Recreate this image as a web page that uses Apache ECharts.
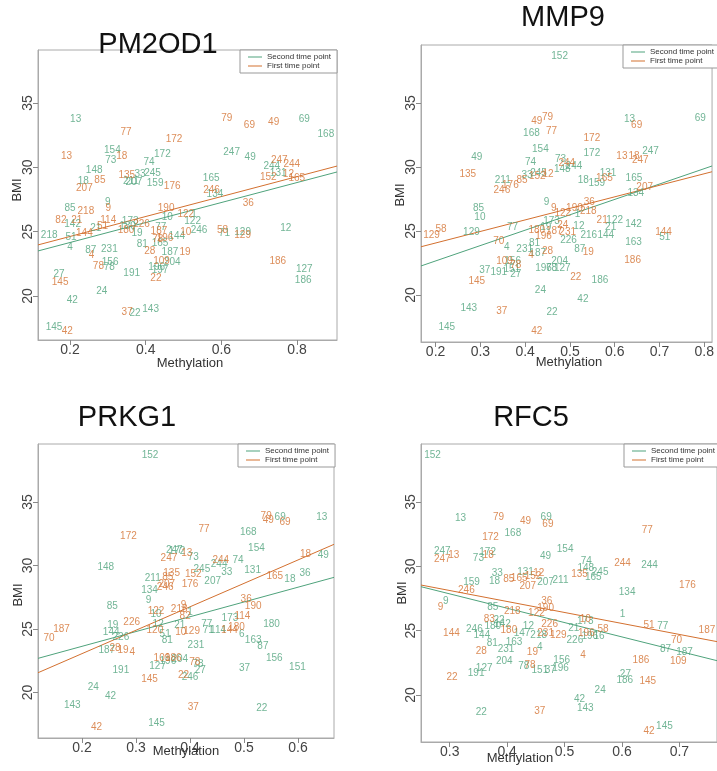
<!DOCTYPE html>
<html>
<head>
    <meta charset="utf-8">
    <title>Methylation vs BMI</title>
    <script src="https://cdn.jsdelivr.net/npm/echarts@6/dist/echarts.min.js"></script>
    <style>
        html, body { margin: 0; padding: 0; background: #fff; }
        #main { width: 717px; height: 771px; }
    </style>
</head>
<body>
<div id="main"></div>
<script type="text/javascript">
// each point: [methylation, BMI, subject id]
var pm2od1Second = [[0.215,33.73,'13'],[0.312,31.32,'154'],[0.308,30.57,'73'],[0.444,31.01,'172'],[0.409,30.36,'74'],[0.264,29.79,'148'],[0.385,29.46,'33'],[0.418,29.51,'245'],[0.361,28.88,'211'],[0.369,28.86,'207'],[0.425,28.73,'159'],[0.235,28.88,'18'],[0.3,27.28,'9'],[0.2,26.82,'85'],[0.207,25.54,'142'],[0.457,26.09,'10'],[0.528,26.38,'1'],[0.524,25.81,'122'],[0.359,25.83,'173'],[0.352,25.39,'180'],[0.44,25.34,'77'],[0.145,24.74,'218'],[0.203,24.57,'51'],[0.268,25.23,'21'],[0.2,23.76,'4'],[0.255,23.56,'87'],[0.304,23.66,'231'],[0.391,24.04,'81'],[0.438,24.1,'165'],[0.482,24.67,'144'],[0.377,24.9,'19'],[0.541,25.13,'246'],[0.464,23.37,'187'],[0.306,22.65,'156'],[0.304,22.2,'78'],[0.47,22.65,'204'],[0.429,22.2,'196'],[0.438,21.97,'197'],[0.363,21.77,'191'],[0.171,21.66,'27'],[0.284,20.37,'24'],[0.206,19.69,'42'],[0.372,18.68,'22'],[0.413,18.99,'143'],[0.158,17.57,'145'],[0.819,33.76,'69'],[0.876,32.59,'168'],[0.627,31.17,'247'],[0.676,30.75,'49'],[0.733,30.05,'244'],[0.75,29.54,'131'],[0.573,29.15,'165'],[0.583,27.93,'134'],[0.77,25.26,'12'],[0.608,24.84,'71'],[0.656,24.92,'129'],[0.819,22.1,'127'],[0.816,21.19,'186']];
var pm2od1First = [[0.348,32.72,'77'],[0.475,32.2,'172'],[0.191,30.88,'13'],[0.337,30.83,'18'],[0.35,29.38,'135'],[0.279,28.99,'85'],[0.238,28.4,'207'],[0.47,28.55,'176'],[0.242,26.55,'218'],[0.301,26.84,'9'],[0.454,26.82,'190'],[0.176,25.85,'82'],[0.218,25.9,'21'],[0.301,25.9,'114'],[0.286,25.44,'51'],[0.389,25.56,'226'],[0.238,24.88,'144'],[0.348,25.11,'180'],[0.435,25.0,'187'],[0.432,24.41,'78'],[0.451,24.51,'196'],[0.506,26.38,'122'],[0.506,24.92,'10'],[0.257,23.17,'4'],[0.411,23.45,'28'],[0.504,23.4,'19'],[0.275,22.31,'78'],[0.442,22.67,'109'],[0.174,21.07,'145'],[0.427,21.35,'22'],[0.351,18.76,'37'],[0.193,17.23,'42'],[0.614,33.81,'79'],[0.674,33.27,'69'],[0.738,33.5,'49'],[0.753,30.55,'247'],[0.786,30.26,'244'],[0.724,29.23,'152'],[0.777,29.48,'12'],[0.799,29.15,'165'],[0.574,28.19,'246'],[0.671,27.23,'36'],[0.603,25.13,'58'],[0.656,24.69,'129'],[0.749,22.7,'186']];

var mmp9Second = [[0.477,38.67,'152'],[0.292,30.76,'49'],[0.414,32.66,'168'],[0.434,31.38,'154'],[0.412,30.37,'74'],[0.404,29.32,'33'],[0.43,29.51,'245'],[0.35,28.93,'211'],[0.296,26.77,'85'],[0.299,26.07,'10'],[0.28,24.87,'129'],[0.372,25.29,'77'],[0.448,27.24,'9'],[0.359,23.73,'4'],[0.399,23.59,'231'],[0.421,24.04,'81'],[0.428,23.3,'187'],[0.31,21.9,'37'],[0.341,21.77,'191'],[0.37,22.0,'151'],[0.379,21.62,'27'],[0.441,22.13,'196'],[0.459,22.13,'78'],[0.434,20.34,'24'],[0.274,18.96,'143'],[0.225,17.52,'145'],[0.46,18.65,'22'],[0.633,33.75,'13'],[0.791,33.8,'69'],[0.549,31.07,'172'],[0.479,30.63,'73'],[0.483,29.82,'148'],[0.509,30.08,'244'],[0.68,31.2,'247'],[0.585,29.55,'131'],[0.53,28.93,'18'],[0.56,28.73,'159'],[0.643,29.16,'165'],[0.647,27.95,'134'],[0.517,26.33,'1'],[0.6,25.81,'122'],[0.591,25.26,'21'],[0.642,25.55,'142'],[0.52,25.34,'12'],[0.58,24.63,'144'],[0.542,24.69,'216'],[0.642,24.09,'163'],[0.497,24.3,'226'],[0.522,23.57,'87'],[0.477,22.6,'204'],[0.483,22.09,'127'],[0.567,21.17,'186'],[0.529,19.66,'42'],[0.712,24.55,'51'],[0.459,25.73,'173'],[0.446,25.29,'19'],[0.372,22.66,'156']];
var mmp9First = [[0.426,33.54,'49'],[0.45,33.88,'79'],[0.459,32.76,'77'],[0.272,29.43,'135'],[0.367,28.54,'176'],[0.348,28.18,'246'],[0.393,28.98,'85'],[0.427,29.24,'152'],[0.451,29.45,'12'],[0.191,24.63,'129'],[0.212,25.13,'58'],[0.341,24.22,'70'],[0.354,22.6,'109'],[0.379,22.29,'78'],[0.292,21.04,'145'],[0.348,18.7,'37'],[0.426,17.19,'42'],[0.413,23.13,'4'],[0.45,23.38,'28'],[0.426,25.08,'180'],[0.441,24.61,'196'],[0.465,24.95,'187'],[0.464,26.77,'9'],[0.484,26.38,'122'],[0.51,26.77,'190'],[0.543,27.24,'36'],[0.541,26.56,'218'],[0.484,25.48,'24'],[0.495,24.87,'231'],[0.541,23.36,'19'],[0.513,21.35,'22'],[0.493,30.29,'244'],[0.549,32.24,'172'],[0.616,30.86,'13'],[0.643,30.86,'18'],[0.657,30.55,'247'],[0.649,33.28,'69'],[0.577,29.16,'165'],[0.667,28.41,'207'],[0.572,25.86,'21'],[0.709,24.87,'144'],[0.64,22.68,'186']];

var prkg1Second = [[0.326,38.7,'152'],[0.244,29.83,'148'],[0.331,28.99,'211'],[0.325,28.02,'134'],[0.323,27.28,'9'],[0.256,26.83,'85'],[0.257,25.31,'19'],[0.254,24.71,'144'],[0.272,24.36,'226'],[0.246,23.35,'187'],[0.272,21.77,'191'],[0.221,20.38,'24'],[0.253,19.72,'42'],[0.182,19.02,'143'],[0.338,17.57,'145'],[0.371,31.22,'247'],[0.376,31.14,'172'],[0.406,30.65,'73'],[0.337,26.16,'10'],[0.341,25.37,'12'],[0.354,24.6,'51'],[0.358,24.08,'81'],[0.381,25.31,'21'],[0.34,22.09,'127'],[0.359,22.43,'196'],[0.381,22.64,'204'],[0.567,33.8,'69'],[0.644,33.8,'13'],[0.508,32.66,'168'],[0.523,31.4,'154'],[0.489,30.43,'74'],[0.454,30.12,'244'],[0.468,29.51,'33'],[0.516,29.59,'131'],[0.585,28.94,'18'],[0.613,29.39,'36'],[0.647,30.83,'49'],[0.442,28.8,'207'],[0.422,29.7,'245'],[0.551,25.39,'180'],[0.474,25.84,'173'],[0.517,24.13,'163'],[0.535,23.61,'87'],[0.556,22.69,'156'],[0.599,22.03,'151'],[0.501,21.91,'37'],[0.533,18.76,'22'],[0.411,23.69,'231'],[0.419,21.77,'27'],[0.4,21.24,'246'],[0.496,24.61,'6'],[0.434,24.87,'71'],[0.452,24.87,'114'],[0.431,25.37,'77'],[0.4,26.36,'1'],[0.415,22.2,'78']];
var prkg1First = [[0.286,32.27,'172'],[0.361,30.61,'247'],[0.394,30.96,'13'],[0.366,29.43,'135'],[0.359,29.04,'85'],[0.357,28.54,'207'],[0.354,28.28,'246'],[0.4,28.54,'176'],[0.337,26.42,'122'],[0.162,25.0,'187'],[0.139,24.31,'70'],[0.292,25.53,'226'],[0.261,23.48,'28'],[0.276,23.35,'19'],[0.293,23.19,'4'],[0.325,21.06,'145'],[0.227,17.26,'42'],[0.38,26.57,'218'],[0.388,26.89,'9'],[0.391,25.97,'82'],[0.383,24.76,'10'],[0.403,24.79,'129'],[0.388,21.38,'22'],[0.406,18.88,'37'],[0.335,24.92,'120'],[0.348,22.69,'109'],[0.369,22.72,'186'],[0.541,33.9,'79'],[0.545,33.53,'49'],[0.576,33.37,'69'],[0.426,32.85,'77'],[0.457,30.38,'244'],[0.406,29.31,'152'],[0.614,30.91,'18'],[0.557,29.17,'165'],[0.504,27.34,'36'],[0.517,26.83,'190'],[0.497,25.97,'114'],[0.486,25.13,'180'],[0.473,24.87,'144'],[0.409,22.42,'78']];

var rfc5Second = [[0.27,38.65,'152'],[0.319,33.73,'13'],[0.287,31.19,'247'],[0.35,30.63,'73'],[0.366,31.09,'172'],[0.41,32.61,'168'],[0.468,33.81,'69'],[0.467,30.75,'49'],[0.383,29.46,'33'],[0.378,28.86,'18'],[0.338,28.73,'159'],[0.432,29.54,'131'],[0.467,28.73,'207'],[0.493,28.94,'211'],[0.293,27.25,'9'],[0.375,26.86,'85'],[0.343,25.11,'246'],[0.356,24.61,'144'],[0.375,25.31,'180'],[0.392,25.5,'142'],[0.386,25.83,'22'],[0.374,24.02,'81'],[0.398,23.56,'231'],[0.412,24.07,'163'],[0.437,25.31,'12'],[0.426,24.84,'147'],[0.455,24.61,'218'],[0.457,23.71,'4'],[0.395,22.59,'204'],[0.36,22.08,'127'],[0.346,21.69,'191'],[0.429,22.26,'78'],[0.457,21.95,'151'],[0.475,21.89,'37'],[0.355,18.66,'22'],[0.501,31.35,'154'],[0.538,30.36,'74'],[0.537,29.85,'148'],[0.562,29.54,'245'],[0.55,29.15,'165'],[0.648,30.05,'244'],[0.609,27.95,'134'],[0.601,26.3,'1'],[0.671,25.31,'77'],[0.676,23.56,'87'],[0.709,23.32,'187'],[0.536,25.7,'173'],[0.516,25.19,'21'],[0.544,24.59,'196'],[0.56,24.53,'16'],[0.518,24.28,'226'],[0.495,22.67,'156'],[0.493,22.08,'196'],[0.606,21.64,'27'],[0.605,21.17,'186'],[0.562,20.34,'24'],[0.526,19.67,'42'],[0.536,18.97,'143'],[0.674,17.54,'145']];
var rfc5First = [[0.385,33.81,'79'],[0.432,33.52,'49'],[0.471,33.27,'69'],[0.371,32.23,'172'],[0.287,30.55,'247'],[0.307,30.88,'13'],[0.367,30.83,'18'],[0.403,29.0,'85'],[0.421,29.07,'165'],[0.445,29.2,'152'],[0.455,29.46,'12'],[0.436,28.42,'207'],[0.329,28.16,'246'],[0.284,26.82,'9'],[0.409,26.53,'218'],[0.451,26.35,'122'],[0.469,27.25,'36'],[0.467,26.74,'190'],[0.369,25.91,'83'],[0.403,25.05,'180'],[0.474,25.52,'226'],[0.467,24.84,'231'],[0.303,24.84,'144'],[0.355,23.42,'28'],[0.444,23.32,'19'],[0.304,21.35,'22'],[0.457,18.71,'37'],[0.44,22.28,'78'],[0.489,24.67,'129'],[0.644,32.77,'77'],[0.601,30.28,'244'],[0.526,29.38,'135'],[0.714,28.55,'176'],[0.536,25.91,'10'],[0.538,24.84,'196'],[0.567,25.11,'58'],[0.647,25.44,'51'],[0.695,24.28,'70'],[0.748,25.0,'187'],[0.532,23.11,'4'],[0.633,22.67,'186'],[0.698,22.65,'109'],[0.645,21.04,'145'],[0.647,17.21,'42']];

// fitted lines, read as end points at the panel edges
var pm2od1SecondLine = [[0.1155,23.5],[0.9054,29.64]];
var pm2od1FirstLine = [[0.1155,23.97],[0.9054,30.1]];
var mmp9SecondLine = [[0.1674,22.27],[0.8174,30.08]];
var mmp9FirstLine = [[0.1674,23.77],[0.8174,29.63]];
var prkg1SecondLine = [[0.1185,22.69],[0.6667,29.07]];
var prkg1FirstLine = [[0.1185,21.56],[0.6667,31.67]];
var rfc5SecondLine = [[0.25,28.42],[0.7655,22.67]];
var rfc5FirstLine = [[0.25,28.55],[0.7655,24.15]];

// tick labels
var bmiTicks = [20, 25, 30, 35];
var pm2od1XTicks = [0.2, 0.4, 0.6, 0.8];
var mmp9XTicks = [0.2, 0.3, 0.4, 0.5, 0.6, 0.7, 0.8];
var prkg1XTicks = [0.2, 0.3, 0.4, 0.5, 0.6];
var rfc5XTicks = [0.3, 0.4, 0.5, 0.6, 0.7];

var GREEN = '#4fa37c';
var ORANGE = '#d3702f';
var FONT = 'Liberation Sans, Arial, sans-serif';

var panels = [
    {title: 'PM2OD1', second: pm2od1Second, first: pm2od1First, secondLine: pm2od1SecondLine, firstLine: pm2od1FirstLine,
     xTicks: pm2od1XTicks, xMin: 0.1155, xMax: 0.9054, yMin: 16.58, yMax: 39.12,
     grid: {left: 38, top: 50, width: 299, height: 290}, legend: {left: 240, top: 50},
     titlePos: [158, 45], xName: [190, 363], yName: [17, 190]},
    {title: 'MMP9', second: mmp9Second, first: mmp9First, secondLine: mmp9SecondLine, firstLine: mmp9FirstLine,
     xTicks: mmp9XTicks, xMin: 0.1674, xMax: 0.8174, yMin: 16.33, yMax: 39.53,
     grid: {left: 421, top: 45, width: 299, height: 297}, legend: {left: 623, top: 45},
     titlePos: [563, 18], xName: [569, 362], yName: [400, 195]},
    {title: 'PRKG1', second: prkg1Second, first: prkg1First, secondLine: prkg1SecondLine, firstLine: prkg1FirstLine,
     xTicks: prkg1XTicks, xMin: 0.1185, xMax: 0.6667, yMin: 16.42, yMax: 39.57,
     grid: {left: 38, top: 444, width: 296, height: 294}, legend: {left: 238, top: 444},
     titlePos: [127, 418], xName: [186, 751], yName: [18, 595]},
    {title: 'RFC5', second: rfc5Second, first: rfc5First, secondLine: rfc5SecondLine, firstLine: rfc5FirstLine,
     xTicks: rfc5XTicks, xMin: 0.25, xMax: 0.7655, yMin: 16.35, yMax: 39.51,
     grid: {left: 421, top: 444, width: 299, height: 298}, legend: {left: 624, top: 444},
     titlePos: [531, 418], xName: [520, 758], yName: [402, 593]}
];

var grids = [], xAxes = [], yAxes = [], legends = [], series = [], graphics = [];

panels.forEach(function (p, i) {
    grids.push({left: p.grid.left, top: p.grid.top, width: p.grid.width, height: p.grid.height,
        show: true, borderColor: '#aaa', borderWidth: 1, backgroundColor: '#fff'});
    xAxes.push({
        type: 'value', gridIndex: i, min: p.xMin, max: p.xMax,
        axisLine: {show: true, lineStyle: {color: '#aaa'}},
        axisTick: {show: true, customValues: p.xTicks, length: 5, lineStyle: {color: '#888'}},
        axisLabel: {customValues: p.xTicks, fontSize: 14, color: '#444', margin: 3, fontFamily: FONT,
            formatter: function (v) { return v.toFixed(1); }},
        splitLine: {show: false}
    });
    yAxes.push({
        type: 'value', gridIndex: i, min: p.yMin, max: p.yMax,
        axisLine: {show: true, lineStyle: {color: '#aaa'}},
        axisTick: {show: true, customValues: bmiTicks, length: 5, lineStyle: {color: '#888'}},
        axisLabel: {customValues: bmiTicks, fontSize: 14, color: '#444', margin: 3, rotate: 90, fontFamily: FONT},
        splitLine: {show: false}
    });
    // plain line swatches, no marker
    legends.push({
        data: ['Second time point', 'First time point'],
        orient: 'vertical', left: p.legend.left, top: p.legend.top,
        icon: 'rect', itemWidth: 14, itemHeight: 1, itemGap: 1, padding: [3, 6, 3, 8],
        backgroundColor: '#fff', borderColor: '#999', borderWidth: 1,
        selectedMode: false,
        textStyle: {fontSize: 8, color: '#333', fontFamily: FONT}
    });
    series.push({
        name: 'Second time point', type: 'line', xAxisIndex: i, yAxisIndex: i,
        data: p.secondLine, symbol: 'none', color: GREEN,
        lineStyle: {color: GREEN, width: 1}, silent: true, z: 1
    });
    series.push({
        name: 'First time point', type: 'line', xAxisIndex: i, yAxisIndex: i,
        data: p.firstLine, symbol: 'none', color: ORANGE,
        lineStyle: {color: ORANGE, width: 1}, silent: true, z: 1
    });
    [[p.second, GREEN, 'second ids'], [p.first, ORANGE, 'first ids']].forEach(function (s) {
        series.push({
            name: s[2] + ' ' + i, type: 'scatter', xAxisIndex: i, yAxisIndex: i,
            data: s[0], symbolSize: 0, silent: true, z: 2,
            itemStyle: {color: 'rgba(0,0,0,0)'},
            label: {show: true, position: 'inside', fontSize: 10, color: s[1], fontFamily: FONT,
                formatter: function (d) { return d.value[2]; }}
        });
    });
    graphics.push({type: 'text', x: p.titlePos[0], y: p.titlePos[1], z: 10,
        style: {text: p.title, fontSize: 29, fontFamily: FONT, fill: '#111', align: 'center', verticalAlign: 'middle'}});
    graphics.push({type: 'text', x: p.xName[0], y: p.xName[1], z: 10,
        style: {text: 'Methylation', fontSize: 13, fontFamily: FONT, fill: '#333', align: 'center', verticalAlign: 'middle'}});
    graphics.push({type: 'text', x: p.yName[0], y: p.yName[1], rotation: Math.PI / 2, z: 10,
        style: {text: 'BMI', fontSize: 13, fontFamily: FONT, fill: '#333', align: 'center', verticalAlign: 'middle'}});
});

var myChart = echarts.init(document.getElementById('main'));
var option = {
    animation: false,
    textStyle: {fontFamily: FONT},
    grid: grids,
    xAxis: xAxes,
    yAxis: yAxes,
    legend: legends,
    series: series,
    graphic: graphics
};
myChart.setOption(option);
</script>
</body>
</html>
